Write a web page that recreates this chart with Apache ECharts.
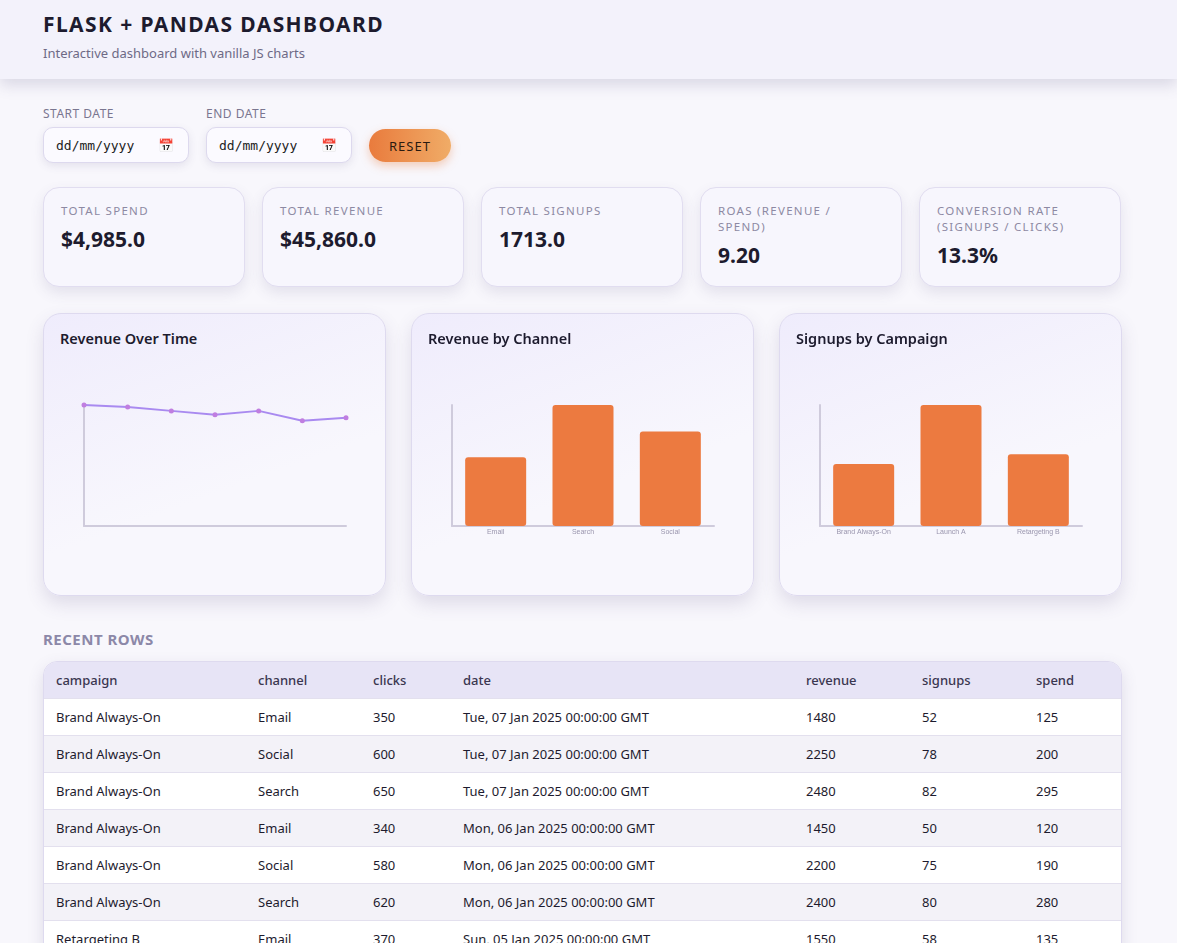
<!DOCTYPE html>
<html><head><meta charset="utf-8">
<script src="https://cdn.jsdelivr.net/npm/echarts@6/dist/echarts.min.js"></script>
<style>
body{margin:0;font-family:"Noto Sans",sans-serif;background:#f8f7fc;color:#1d1b2e;width:1177px;overflow:hidden}
.top{height:79px;background:#f3f2fb;box-shadow:0 6px 14px rgba(80,70,120,.18);padding-left:43px;box-sizing:border-box;padding-top:10px}
.top h1{margin:0;font-size:21px;letter-spacing:1.4px;font-weight:700}
.top p{margin:6px 0 0;font-size:13px;color:#6e6a86}
.wrap{padding:0 55px 0 43px}
.filters{display:flex;align-items:flex-end;margin-top:26px;gap:17px}
.filters label{display:block;font-size:12px;color:#7a7690;letter-spacing:.5px;margin-bottom:5px}
.date{width:146px;height:36px;border:1px solid #ddd9ee;border-radius:10px;background:#fbfaff;box-shadow:0 3px 8px rgba(80,70,120,.12);box-sizing:border-box;font-family:monospace;font-size:13px;padding:10px 12px;color:#222;position:relative}
.btn{height:33px;width:82px;border-radius:17px;background:linear-gradient(90deg,#e97b3d,#f0ac67);color:#2a1a10;font-size:13px;letter-spacing:1px;display:flex;align-items:center;justify-content:center;box-shadow:0 4px 10px rgba(233,123,61,.35);margin-bottom:1px}
.kpis{display:flex;gap:17px;margin-top:24px}
.kpi{width:202px;height:100px;box-sizing:border-box;border:1px solid #e1ddf0;border-radius:16px;background:#f7f6fd;box-shadow:0 6px 14px rgba(80,70,120,.12);padding:15px 17px}
.kpi .l{font-size:11.5px;letter-spacing:1.3px;color:#8d89a3;line-height:16px;width:160px}
.kpi .v{font-size:21px;font-weight:700;margin-top:6px}
.charts{display:flex;gap:25px;margin-top:26px}
.card{position:relative;width:343px;height:283px;box-sizing:border-box;border:1px solid #dedaef;border-radius:18px;background:linear-gradient(160deg,#efecfc,#f8f7fd 60%);box-shadow:0 8px 18px rgba(80,70,120,.15)}
.card h3{position:absolute;left:16px;top:14px;margin:0;font-size:14.5px;font-weight:600}
.card .c{position:absolute;left:0;top:0;width:341px;height:281px}
h2{font-size:15px;color:#8c88a8;letter-spacing:.5px;margin:33px 0 12px}
table{width:1079px;border-collapse:separate;border-spacing:0;font-size:13px;border-radius:14px;overflow:hidden;border:1px solid #dedaef;box-shadow:0 6px 16px rgba(80,70,120,.15)}
th{background:#e7e4f6;text-align:left;font-weight:500;color:#3a3650;height:36px;padding:0 12px}
td{height:36px;padding:0 12px;border-top:1px solid #e3e0ee}
tr:nth-child(odd) td{background:#f3f2f8}
tr:nth-child(even) td{background:#fff}
</style></head><body>
<div class="top"><h1>FLASK + PANDAS DASHBOARD</h1><p>Interactive dashboard with vanilla JS charts</p></div>
<div class="wrap">
<div class="filters">
<div><label>START DATE</label><div class="date">dd/mm/yyyy<span style="position:absolute;right:14px">&#128197;</span></div></div>
<div><label>END DATE</label><div class="date">dd/mm/yyyy<span style="position:absolute;right:14px">&#128197;</span></div></div>
<div class="btn">RESET</div>
</div>
<div class="kpis" id="kpis"></div>
<div class="charts">
<div class="card"><h3>Revenue Over Time</h3><div class="c" id="c1"></div></div>
<div class="card"><h3>Revenue by Channel</h3><div class="c" id="c2"></div></div>
<div class="card"><h3>Signups by Campaign</h3><div class="c" id="c3"></div></div>
</div>
<h2>RECENT ROWS</h2>
<table id="tbl"><colgroup><col style="width:202px"><col style="width:115px"><col style="width:90px"><col style="width:343px"><col style="width:116px"><col style="width:114px"><col></colgroup></table>
</div>
<script>
// KPI tiles
var kpiLabels = ['TOTAL SPEND', 'TOTAL REVENUE', 'TOTAL SIGNUPS', 'ROAS (REVENUE / SPEND)', 'CONVERSION RATE (SIGNUPS / CLICKS)']
var kpiValues = ['$4,985.0', '$45,860.0', '1713.0', '9.20', '13.3%']

// chart data
var dates = ['2025-01-01', '2025-01-02', '2025-01-03', '2025-01-04', '2025-01-05', '2025-01-06', '2025-01-07']
var revenueByDate = [7000, 6890, 6660, 6430, 6660, 6090, 6260]
var channels = ['Email', 'Search', 'Social']
var revenueByChannel = [11100, 19520, 15240]
var campaigns = ['Brand Always-On', 'Launch A', 'Retargeting B']
var signupsByCampaign = [417, 814, 482]

// table
var columns = ['campaign', 'channel', 'clicks', 'date', 'revenue', 'signups', 'spend']
var rows = [
  ['Brand Always-On', 'Email', 350, 'Tue, 07 Jan 2025 00:00:00 GMT', 1480, 52, 125],
  ['Brand Always-On', 'Social', 600, 'Tue, 07 Jan 2025 00:00:00 GMT', 2250, 78, 200],
  ['Brand Always-On', 'Search', 650, 'Tue, 07 Jan 2025 00:00:00 GMT', 2480, 82, 295],
  ['Brand Always-On', 'Email', 340, 'Mon, 06 Jan 2025 00:00:00 GMT', 1450, 50, 120],
  ['Brand Always-On', 'Social', 580, 'Mon, 06 Jan 2025 00:00:00 GMT', 2200, 75, 190],
  ['Brand Always-On', 'Search', 620, 'Mon, 06 Jan 2025 00:00:00 GMT', 2400, 80, 280],
  ['Retargeting B', 'Email', 370, 'Sun, 05 Jan 2025 00:00:00 GMT', 1550, 58, 135]
]

document.getElementById('kpis').innerHTML = kpiLabels.map(function (l, i) {
  return '<div class="kpi"><div class="l">' + l + '</div><div class="v">' + kpiValues[i] + '</div></div>'
}).join('')

var tbl = document.getElementById('tbl')
tbl.innerHTML += '<tr>' + columns.map(function (c) { return '<th>' + c + '</th>' }).join('') + '</tr>' +
  rows.map(function (r) { return '<tr>' + r.map(function (v) { return '<td>' + v + '</td>' }).join('') + '</tr>' }).join('')

var axisLine = { lineStyle: { color: '#cfcbdc', width: 2 } }
var grid = { left: 40, right: 39, top: 91, bottom: 69 }

function baseX(cats, boundary, showLabels) {
  return {
    type: 'category', data: cats, boundaryGap: boundary,
    axisLine: axisLine, axisTick: { show: false },
    axisLabel: { show: showLabels, fontSize: 7, color: '#9a96ae', margin: 3 }
  }
}
function baseY() {
  return { type: 'value', min: 0, max: 'dataMax', axisLine: Object.assign({ show: true }, axisLine), axisLabel: { show: false }, splitLine: { show: false } }
}

echarts.init(document.getElementById('c1')).setOption({
  grid: grid,
  xAxis: baseX(dates, false, false),
  yAxis: baseY(),
  series: [{
    type: 'line', data: revenueByDate, symbol: 'circle', symbolSize: 5,
    lineStyle: { color: '#a98af0', width: 2 }, itemStyle: { color: '#c07ee0' }
  }]
})

function bars(id, cats, vals) {
  echarts.init(document.getElementById(id)).setOption({
    grid: grid,
    xAxis: baseX(cats, true, true),
    yAxis: baseY(),
    series: [{
      type: 'bar', data: vals, barWidth: 61,
      itemStyle: { color: '#ec7a40', borderRadius: 3 }
    }]
  })
}
bars('c2', channels, revenueByChannel)
bars('c3', campaigns, signupsByCampaign)
</script>
</body></html>
